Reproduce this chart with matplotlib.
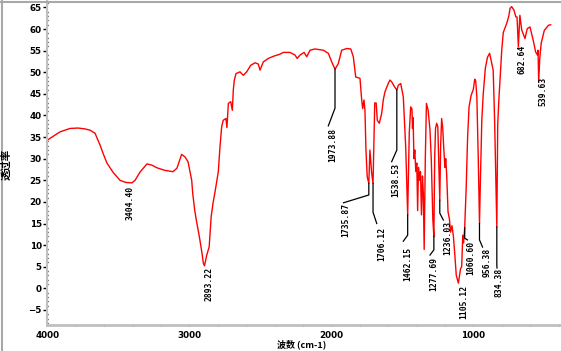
import matplotlib
matplotlib.use('Agg')
import matplotlib.pyplot as plt
from matplotlib.lines import Line2D
from matplotlib.ticker import MultipleLocator

# IR spectrum
wavenumber = [4000, 3967, 3911, 3840, 3784, 3735, 3699, 3664, 3629, 3608, 3580, 3538, 3488, 3446,
              3404.4, 3382, 3347, 3298, 3263, 3228, 3172, 3115, 3087, 3054, 3030, 3009, 2983, 2976,
              2962, 2948, 2930, 2910, 2901, 2893.22, 2877, 2860, 2846, 2833, 2819, 2796, 2784, 2772,
              2761, 2742, 2735, 2725, 2708, 2697, 2690, 2683, 2671, 2643, 2620, 2596, 2568, 2537,
              2514, 2502, 2479, 2444, 2408, 2361, 2338, 2291, 2256, 2240, 2220, 2192, 2173, 2150,
              2115, 2056, 2021, 1997, 1973.88, 1951, 1927, 1892, 1863, 1845, 1828, 1798, 1786, 1779,
              1770, 1763, 1756, 1747, 1735.87, 1728, 1716, 1706.12, 1700, 1694, 1684, 1676, 1662,
              1645, 1634, 1622, 1599, 1587, 1575, 1552, 1538.53, 1528, 1511, 1493, 1476, 1462.15,
              1451, 1441, 1432, 1428, 1424, 1418, 1412, 1405, 1398, 1392, 1386, 1380, 1372, 1365,
              1358, 1352, 1346, 1338, 1330, 1318, 1305, 1296, 1285, 1277.69, 1272, 1266, 1258, 1250,
              1244, 1236.03, 1230, 1223, 1215, 1209, 1200, 1194, 1187, 1178, 1168, 1160, 1150, 1140,
              1130, 1120, 1105.12, 1098, 1090, 1082, 1074, 1068, 1060.60, 1050, 1040, 1030, 1015,
              1000, 990, 983, 975, 965, 956.38, 950, 940, 930, 915, 900, 885, 870, 860, 850, 834.38,
              828, 820, 812, 800, 789, 765, 750, 741, 730, 714, 700, 692, 682.64, 672, 659, 636, 620,
              601, 578, 561, 548, 544, 539.63, 532, 522, 500, 470, 455]
transmittance = [34.3, 35.0, 36.2, 37.0, 37.1, 36.9, 36.6, 35.9, 33.2, 31.3, 29.0, 26.9, 25.0, 24.5,
                 24.4, 25.0, 26.9, 28.8, 28.5, 27.9, 27.3, 27.0, 27.8, 31.0, 30.4, 29.3, 25.0, 22.0,
                 18.1, 15.3, 12.1, 8.0, 5.8, 5.2, 7.7, 9.6, 16.6, 19.7, 22.3, 26.9, 32.7, 37.4,
                 38.9, 39.3, 37.2, 42.8, 43.2, 41.2, 45.9, 48.2, 49.7, 50.1, 49.3, 50.1, 51.6, 52.2,
                 51.9, 50.5, 52.4, 53.2, 53.7, 54.2, 54.6, 54.6, 54.0, 53.2, 54.0, 54.6, 53.6, 55.1,
                 55.4, 55.1, 54.4, 52.4, 50.7, 52.0, 55.1, 55.5, 55.4, 53.6, 48.9, 48.6, 43.6, 41.6,
                 43.6, 41.2, 32.0, 25.8, 24.3, 32.0, 26.7, 24.3, 34.3, 42.9, 42.9, 38.9, 38.2,
                 40.5, 43.6, 45.5, 47.4, 48.2, 47.8, 46.5, 45.9, 47.0, 47.4, 44.3, 32.7, 17.0,
                 35.9, 42.0, 41.5, 37.0, 39.5, 30.0, 32.0, 27.0, 29.0, 18.0, 28.0, 25.0, 27.0, 17.0,
                 26.0, 22.0, 9.0, 30.0, 42.8, 41.2, 36.6, 30.0, 16.0, 12.0, 30.0, 37.0, 38.2, 37.4,
                 30.0, 20.4, 33.0, 39.3, 37.0, 33.0, 28.0, 30.0, 26.0, 17.7, 16.0, 13.0, 14.5, 12.0,
                 7.7, 3.0, 1.2, 2.7, 4.5, 5.0, 12.3, 10.5, 14.0, 23.4, 35.0, 42.0, 44.7,
                 46.0, 48.4, 48.0, 44.3, 30.0, 15.0, 25.0, 39.0, 45.0, 51.0, 53.5, 54.4, 52.0, 50.5, 39.0, 14.2,
                 38.0, 43.6, 48.2, 55.0, 59.2, 61.3, 63.0, 64.8, 65.2, 64.4, 62.8, 62.8, 55.9, 63.2, 59.8, 57.8, 60.1,
                 60.5, 57.4, 54.7, 54.0, 55.1, 47.8, 53.2, 56.7, 59.7, 60.9, 61.0]

# peak labels
peak_text = ['3404.40', '2893.22', '1973.88', '1735.87', '1706.12', '1538.53', '1462.15',
             '1277.69', '1236.03', '1105.12', '1060.60', '956.38', '834.38', '682.64', '539.63']
peak_wn = [3404.40, 2893.22, 1973.88, 1735.87, 1706.12, 1538.53, 1462.15,
           1277.69, 1236.03, 1105.12, 1060.60, 956.38, 834.38, 682.64, 539.63]
peak_t = [24.4, 5.2, 50.7, 24.3, 24.3, 45.9, 17.0, 12.0, 20.4, 1.2, 14.0, 15.0, 14.2, 55.9, 47.8]

# leader: vertical drop to, then diagonal end (wn, T); None = no leader
leader_drop = [None, None, 41.7, 21.6, 17.6, 32.0, 12.3, 8.9, 17.4, None, 11.6, 11.2, 5.4, None, None]
leader_end = [None, None, (2021, 37.6), (1914, 19.8), (1680, 15.0), (1575, 29.3), (1493, 10.9),
              (1305, 7.7), (1211, 15.8), None, (1041, 11.2), (935, 9.55), (833, 4.7), None, None]
# text centre wn and top T
text_wn = [3415, 2861, 1988, 1895, 1643, 1544, 1463, 1277, 1182, 1069, 1016, 900, 818, 654, 509]
text_top = [23.6, 4.9, 37.1, 19.7, 14.2, 29.0, 9.55, 7.2, 15.6, 0.76, 11.0, 9.3, 4.7, 56.3, 48.9]

fig = plt.figure(figsize=(5.61, 3.51), dpi=100)
ax = fig.add_axes([47.3 / 561, 1 - 325.3 / 351, (558.5 - 47.3) / 561, (325.3 - 1) / 351])

ax.plot(wavenumber, transmittance, color='red', lw=1.0)

for i in range(len(peak_text)):
    if leader_drop[i] is not None:
        ex, ey = leader_end[i]
        ax.plot([peak_wn[i], peak_wn[i], ex], [peak_t[i], leader_drop[i], ey], color='black', lw=0.9)
    ax.text(text_wn[i], text_top[i], peak_text[i], rotation=90, ha='center', va='top',
            family='DejaVu Sans Mono', weight='bold', fontsize=5.8)

ax.set_xlim(4000, 400)
ax.set_ylim(-8.56, 66.5)
ax.xaxis.set_major_locator(MultipleLocator(1000))
ax.xaxis.set_minor_locator(MultipleLocator(200))
ax.yaxis.set_major_locator(MultipleLocator(5))
ax.yaxis.set_minor_locator(MultipleLocator(1))
ax.set_xticks([4000, 3000, 2000, 1000])

for s in ['top', 'right']:
    ax.spines[s].set_visible(False)
ax.spines['left'].set_color('#c0c0c0')
ax.spines['left'].set_linewidth(1.5)
ax.spines['bottom'].set_color('#c0c0c0')
ax.spines['bottom'].set_linewidth(2)

tick_font = ['Liberation Sans Narrow', 'DejaVu Sans']
ax.tick_params(axis='y', which='major', length=3, width=1, color='black', pad=1, direction='out')
ax.tick_params(axis='y', which='minor', length=1.2, width=1, color='black', direction='inout')
ax.tick_params(axis='x', which='major', length=2, width=1, color='black', pad=3, direction='inout')
ax.tick_params(axis='x', which='minor', length=2, width=1, color='black', direction='inout')
for lab in ax.get_xticklabels() + ax.get_yticklabels():
    lab.set_family(tick_font)
    lab.set_weight('bold')
    lab.set_fontsize(6.3)

cjk = ['Noto Sans CJK SC', 'DejaVu Sans']
fig.text(302 / 561, 1 - 344.5 / 351, '波数 (cm-1)', family=cjk, weight='bold', fontsize=6.5,
         ha='center', va='center')
fig.text(6.5 / 561, 1 - 164 / 351, '透过率', family=cjk, weight='bold', fontsize=7.5,
         ha='center', va='center', rotation=90)

# window frame
fig.add_artist(Line2D([1.5 / 561, 1.5 / 561], [0, 1], color='#a8a8a8', lw=1.5))
fig.add_artist(Line2D([0, 1], [1 - 1.5 / 351, 1 - 1.5 / 351], color='#a8a8a8', lw=1.5))

fig.savefig('out.png', dpi=100)
